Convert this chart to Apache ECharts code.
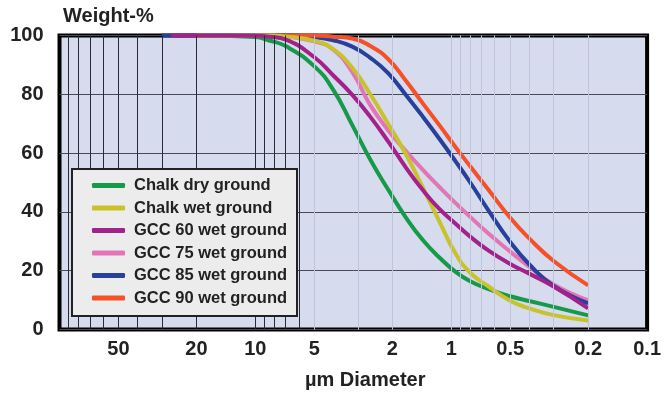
<!DOCTYPE html>
<html>
<head>
<meta charset="utf-8">
<script src="https://cdn.jsdelivr.net/npm/echarts@6/dist/echarts.min.js"></script>
<style>
  html, body { margin: 0; padding: 0; background: #ffffff; }
  #chart { width: 664px; height: 395px; }
</style>
</head>
<body>
<div id="chart"></div>
<script>
// particle diameter (um), shared by all curves
const sizes = [30, 27, 20, 10, 8.5, 7, 5, 4, 3.2, 2.6, 2.1, 1.7, 1.4, 1.15, 0.95, 0.8, 0.65, 0.5, 0.4, 0.3, 0.2];
// cumulative weight-% at each size (null = curve not drawn there)
const chalkDry = [null, null, 100, 99.5, 98.3, 96.4, 89.5, 81.5, 69.5, 58, 47.6, 38, 30.5, 24.5, 19.6, 16.4, 13.8, 11.3, 9.7, 7.7, 4.8];
const chalkWet = [null, null, 100, 100, 100, 99.7, 98.2, 95.3, 89, 80.2, 70, 59.5, 48.4, 36.8, 25.8, 19.3, 14.8, 9.8, 7.2, 4.9, 3.1];
const gcc60 = [null, 100, 100, 99.9, 99.6, 98.6, 92.6, 86.4, 79.8, 72.5, 64, 55, 47.5, 41, 36, 31.6, 27, 22.3, 19, 14.6, 7.2];
const gcc75 = [null, null, null, 100, 100, 99.7, 98, 95.2, 87.5, 76.5, 67.8, 60.6, 54.4, 48.5, 43, 38.3, 32.8, 26.5, 21.4, 15.3, 9.9];
const gcc85 = [100, 100, 100, 100, 100, 100, 99.5, 98.4, 96.2, 92.5, 87.2, 79.7, 72.5, 64.9, 57.2, 50, 40.8, 29.8, 22.2, 14.8, 8.9];
const gcc90 = [null, null, null, 100, 100, 100, 100, 99.6, 99, 96.5, 92, 84.5, 77, 69.5, 62, 55.5, 47.8, 38, 31, 23.3, 15];

const seriesNames = ['Chalk dry ground', 'Chalk wet ground', 'GCC 60 wet ground', 'GCC 75 wet ground', 'GCC 85 wet ground', 'GCC 90 wet ground'];
const seriesColors = ['#17994a', '#c8c22c', '#a3228a', '#e374b5', '#26409b', '#f4502a'];

const xTickLabels = [50, 20, 10, 5, 2, 1, 0.5, 0.2, 0.1];
const gridDark = [90, 80, 70, 60, 50, 40, 30, 20, 10, 9, 8, 7, 6];
const gridLight = [5, 3, 2, 1, 0.9, 0.8, 0.7, 0.6, 0.5, 0.4, 0.3, 0.2];

const FONT = '"Liberation Sans", Arial, Helvetica, sans-serif';

const chart = echarts.init(document.getElementById('chart'));

const curves = [chalkDry, chalkWet, gcc60, gcc75, gcc85, gcc90].map((values, i) => ({
  name: seriesNames[i],
  type: 'line',
  data: sizes.map((s, k) => [s, values[k]]),
  smooth: 0.5,
  showSymbol: false,
  symbol: 'none',
  clip: false,
  z: (i === 1 || i === 2) ? 4 : 3,
  itemStyle: { color: seriesColors[i] },
  lineStyle: { width: 4, color: seriesColors[i] }
}));

const option = {
  animation: false,
  grid: {
    left: 59.5,
    right: 12,
    top: 35.5,
    bottom: 65.5,
    show: true,
    backgroundColor: '#d7dbee',
    borderColor: '#000000',
    borderWidth: 4
  },
  legend: {
    orient: 'vertical',
    left: 87,
    top: 172,
    itemGap: 5.5,
    itemWidth: 33,
    itemHeight: 5,
    icon: 'roundRect',
    selectedMode: false,
    data: seriesNames,
    z: 20,
    textStyle: {
      color: '#222222',
      fontFamily: FONT,
      fontWeight: 'bold',
      fontSize: 16.5,
      padding: [0, 0, 0, 4]
    }
  },
  graphic: [
    {
      type: 'rect',
      z: 15,
      shape: { x: 72, y: 169, width: 225, height: 147 },
      style: { fill: '#ececec', stroke: '#222222', lineWidth: 2 }
    },
    {
      type: 'text',
      left: 63,
      top: 6,
      style: { text: 'Weight-%', fill: '#222222', font: 'bold 20px ' + FONT }
    },
    {
      type: 'text',
      left: 305,
      top: 370,
      style: { text: 'µm Diameter', fill: '#222222', font: 'bold 20px ' + FONT }
    }
  ],
  xAxis: {
    type: 'log',
    logBase: 10,
    min: 0.1,
    max: 100,
    inverse: true,
    axisLine: { show: false },
    axisTick: { show: false },
    splitLine: { show: false },
    axisLabel: {
      customValues: xTickLabels,
      margin: 10,
      color: '#222222',
      fontFamily: FONT,
      fontWeight: 'bold',
      fontSize: 20,
      formatter: v => String(+(+v).toPrecision(3))
    }
  },
  yAxis: {
    type: 'value',
    min: 0,
    max: 100,
    interval: 20,
    axisLine: { show: false },
    axisTick: { show: false },
    splitLine: { lineStyle: { color: '#4a4a55', width: 1 } },
    axisLabel: {
      margin: 16,
      color: '#222222',
      fontFamily: FONT,
      fontWeight: 'bold',
      fontSize: 20
    }
  },
  series: [
    {
      name: 'grid',
      type: 'line',
      data: [],
      z: 1,
      silent: true,
      markLine: {
        silent: true,
        symbol: 'none',
        label: { show: false },
        data: gridDark.map(v => ({ xAxis: v, lineStyle: { color: '#2a2a35', width: 1, type: 'solid' } }))
          .concat(gridLight.map(v => ({ xAxis: v, lineStyle: { color: '#bfc3dc', width: 1, type: 'solid' } })))
      }
    }
  ].concat(curves)
};

chart.setOption(option);
</script>
</body>
</html>
